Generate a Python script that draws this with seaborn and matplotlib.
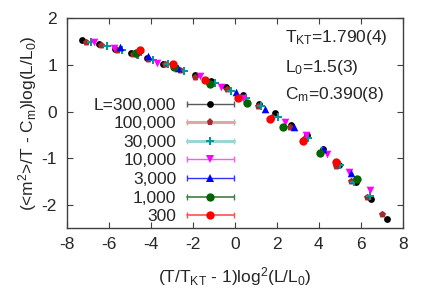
import numpy as np
import pandas as pd
import matplotlib
matplotlib.use('Agg')
import matplotlib.pyplot as plt
import seaborn as sns
from matplotlib.lines import Line2D
from matplotlib.legend_handler import HandlerLine2D, HandlerTuple

# ---------------- data ----------------
labels = ["L=300,000", "100,000", "30,000", "10,000", "3,000", "1,000", "300"]

x_300000 = [-7.29, -6.49, -5.72, -4.97, -4.20, -3.43, -1.92, -1.16, -0.41, 0.38, 1.13, 1.90, 2.65, 3.45, 4.18, 4.95, 5.75, 6.50, 7.27]
y_300000 = [1.53, 1.44, 1.34, 1.25, 1.15, 1.03, 0.79, 0.66, 0.52, 0.35, 0.17, -0.02, -0.28, -0.51, -0.80, -1.15, -1.51, -1.88, -2.30]

x_100000 = [-7.12, -6.40, -5.65, -4.86, -4.14, -3.36, -2.63, -1.89, -0.37, 1.10, 1.78, 2.60, 3.35, 4.80, 5.54, 6.29, 7.00]
y_100000 = [1.50, 1.42, 1.32, 1.23, 1.13, 1.01, 0.89, 0.75, 0.48, 0.11, -0.11, -0.32, -0.57, -1.17, -1.49, -1.84, -2.19]

x_30000 = [-6.89, -6.12, -5.38, -4.65, -3.90, -3.19, -2.44, -0.95, -0.19, 0.52, 1.25, 2.05, 3.48, 4.15, 4.99, 5.70, 6.45]
y_30000 = [1.49, 1.41, 1.31, 1.22, 1.10, 1.01, 0.87, 0.61, 0.45, 0.30, 0.12, -0.11, -0.57, -0.84, -1.15, -1.50, -1.81]

x_10000 = [-6.74, -5.76, -4.70, -3.70, -1.68, -0.66, 0.38, 2.40, 3.41, 4.40, 5.42, 6.42]
y_10000 = [1.49, 1.37, 1.22, 1.05, 0.77, 0.53, 0.30, -0.22, -0.51, -0.90, -1.29, -1.69]

x_3000 = [-5.49, -4.14, -2.71, 0.03, 1.41, 2.81, 4.20, 5.55]
y_3000 = [1.38, 1.19, 0.94, 0.42, 0.06, -0.34, -0.81, -1.32]

x_1000 = [-4.70, -2.92, -1.17, 0.57, 2.29, 4.04, 5.82]
y_1000 = [1.26, 0.96, 0.60, 0.19, -0.32, -0.88, -1.44]

x_300 = [-4.52, -2.98, -1.43, 0.14, 1.67, 3.23, 4.80]
y_300 = [1.32, 1.01, 0.67, 0.30, -0.15, -0.62, -1.07]

xs = [x_300000, x_100000, x_30000, x_10000, x_3000, x_1000, x_300]
ys = [y_300000, y_100000, y_30000, y_10000, y_3000, y_1000, y_300]

xticks = [-8, -6, -4, -2, 0, 2, 4, 6, 8]
yticks = [-2, -1, 0, 1, 2]

# ---------------- style ----------------
colors = ['#000000', '#a52a2a', '#009a9a', '#ff00ff', '#0000ff', '#006400', '#ff0000']
bar_colors = ['#5a5a5a', '#d9a9a9', '#9ad6d6', '#ff55ff', '#3333ff', '#3f7f3f', '#ff5050']
bar_widths = [1.0, 2.2, 2.2, 1.0, 1.0, 1.2, 1.2]
markers = ['o', 'p', 'P', 'v', '^', 'o', 'o']
sizes = [24, 28, 30, 30, 30, 36, 36]

sns.set_theme(style='ticks')
plt.rcParams['font.family'] = ['Liberation Sans', 'DejaVu Sans']
plt.rcParams['mathtext.fontset'] = 'custom'
plt.rcParams['mathtext.rm'] = 'Liberation Sans'
plt.rcParams['mathtext.it'] = 'Liberation Sans:italic'
plt.rcParams['mathtext.default'] = 'rm'

FS = 12.5

fig = plt.figure(figsize=(4.36, 3.05), dpi=100)
ax = fig.add_axes([0.1544, 0.2515, 0.7692, 0.6885])

for i in range(len(labels)):
    df = pd.DataFrame({'x': xs[i], 'y': ys[i]})
    sns.scatterplot(data=df, x='x', y='y', ax=ax, color=colors[i], marker=markers[i],
                    s=sizes[i], linewidth=0, legend=False, zorder=3 + i)

ax.set_xlim(-8, 8)
ax.set_ylim(-2.5, 2)
ax.set_xticks(xticks)
ax.set_yticks(yticks)
ax.set_xticklabels([str(t) for t in xticks])
ax.set_yticklabels([str(t) for t in yticks])
ax.tick_params(direction='in', top=True, right=True, length=4, width=0.8,
               labelsize=FS, color='#404040')
ax.tick_params(axis='x', pad=6)
ax.tick_params(axis='y', pad=7.5)
for sp in ax.spines.values():
    sp.set_color('#404040')
    sp.set_linewidth(1.0)

ax.set_xlabel(r'(T/T$_{\mathrm{KT}}$ - 1)log$^2$(L/L$_0$)', fontsize=FS, labelpad=10)
ax.set_ylabel(r'(<m$^2$>/T - C$_\mathrm{m}$)log(L/L$_0$)', fontsize=FS)
ax.yaxis.set_label_coords(-0.084, 0.5)

# annotations
ax.text(0.648, 0.889, r'T$_{\mathrm{KT}}$=1.790(4)', transform=ax.transAxes, fontsize=FS, va='baseline')
ax.text(0.648, 0.746, r'L$_0$=1.5(3)', transform=ax.transAxes, fontsize=FS, va='baseline')
ax.text(0.648, 0.614, r'C$_\mathrm{m}$=0.390(8)', transform=ax.transAxes, fontsize=FS, va='baseline')

# legend with error-bar style handles
handles = []
hmap = {}
for i in range(len(labels)):
    bar = Line2D([], [], color=bar_colors[i], lw=bar_widths[i], marker='|',
                 markersize=5, markeredgewidth=1.0, markeredgecolor=bar_colors[i])
    pt = Line2D([], [], color=colors[i], lw=0, marker=markers[i],
                markersize=np.sqrt(sizes[i]), markeredgewidth=0)
    hmap[bar] = HandlerLine2D(numpoints=2, marker_pad=0)
    hmap[pt] = HandlerLine2D(numpoints=1)
    handles.append((bar, pt))
hmap[tuple] = HandlerTuple(ndivide=1, pad=0)

leg = ax.legend(handles, labels, handler_map=hmap, loc='center right',
                bbox_to_anchor=(0.497, 0.321), borderaxespad=0, borderpad=0,
                frameon=False, markerfirst=False, fontsize=FS,
                handlelength=2.71, handletextpad=0.61, labelspacing=0.2)

fig.savefig('out.png', dpi=100)
